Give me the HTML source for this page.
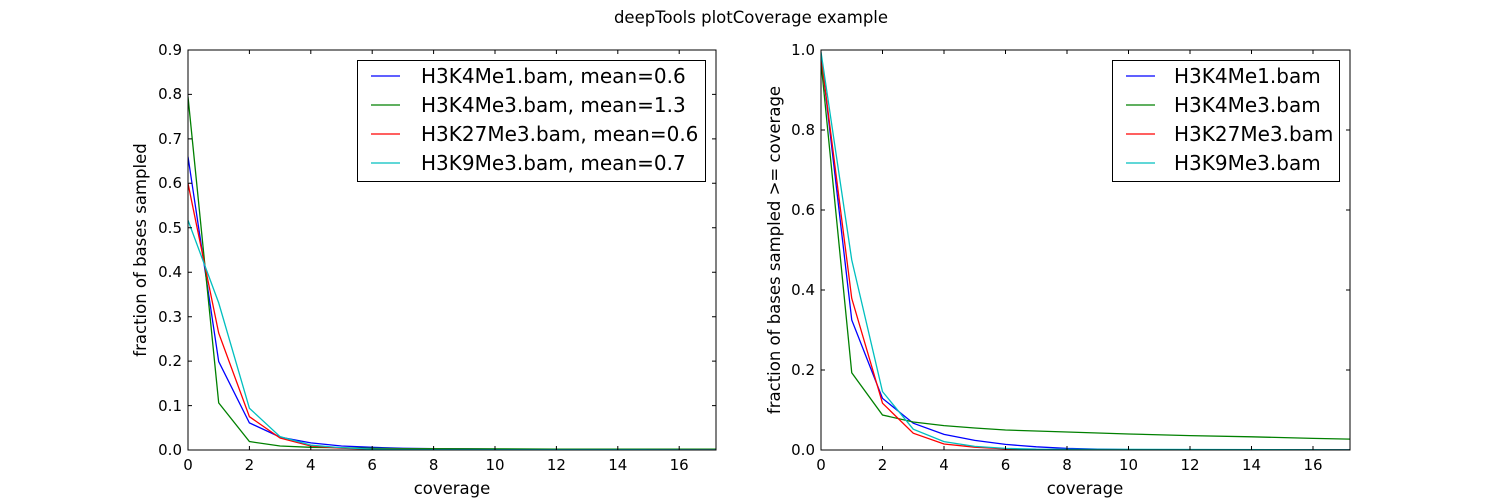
<!DOCTYPE html>
<html><head><meta charset="utf-8"><style>
html,body{margin:0;padding:0;background:#fff;}
svg{display:block;font-family:"DejaVu Sans","Liberation Sans",sans-serif;}
</style></head><body>
<svg width="1500" height="500" viewBox="0 0 1500 500" xmlns="http://www.w3.org/2000/svg">
<defs>
<clipPath id="c1"><rect x="188" y="50" width="528" height="400"/></clipPath>
<clipPath id="c2"><rect x="821" y="50" width="529" height="400"/></clipPath>
</defs>
<rect width="1500" height="500" fill="#fff"/>
<text x="751" y="23" font-size="16.5" text-anchor="middle">deepTools plotCoverage example</text>

<!-- LEFT -->
<g clip-path="url(#c1)" fill="none" stroke-width="1.3">
<g transform="translate(188,450) scale(30.7,-444.44)">
<polyline vector-effect="non-scaling-stroke" stroke="#0000ff" points="0,0.66 1,0.199 2,0.061 3,0.029 4,0.016 5,0.009 6,0.006 7,0.004 8,0.003 10,0.002 18,0.001"/>
<polyline vector-effect="non-scaling-stroke" stroke="#008000" points="0,0.795 1,0.106 2,0.019 3,0.009 4,0.006 5,0.005 6,0.004 7,0.003 8,0.003 12,0.002 18,0.002"/>
<polyline vector-effect="non-scaling-stroke" stroke="#ff0000" points="0,0.60 1,0.263 2,0.075 3,0.027 4,0.009 5,0.004 6,0.002 7,0.001 18,0.0005"/>
<polyline vector-effect="non-scaling-stroke" stroke="#00bfbf" points="0,0.517 1,0.331 2,0.094 3,0.030 4,0.011 5,0.005 6,0.002 7,0.001 18,0.0005"/>
</g></g>
<rect x="188" y="50" width="528" height="400" fill="none" stroke="#000" stroke-width="1"/>
<g stroke="#000" stroke-width="1">
<path d="M188,450v-4M188,50v4M249.4,450v-4M249.4,50v4M310.8,450v-4M310.8,50v4M372.2,450v-4M372.2,50v4M433.6,450v-4M433.6,50v4M495,450v-4M495,50v4M556.4,450v-4M556.4,50v4M617.8,450v-4M617.8,50v4M679.2,450v-4M679.2,50v4"/>
<path d="M188,405.6h4M716,405.6h-4M188,361.1h4M716,361.1h-4M188,316.7h4M716,316.7h-4M188,272.2h4M716,272.2h-4M188,227.8h4M716,227.8h-4M188,183.3h4M716,183.3h-4M188,138.9h4M716,138.9h-4M188,94.4h4M716,94.4h-4"/>
</g>
<g font-size="15" text-anchor="middle">
<text x="188" y="470">0</text><text x="249.4" y="470">2</text><text x="310.8" y="470">4</text><text x="372.2" y="470">6</text><text x="433.6" y="470">8</text><text x="495" y="470">10</text><text x="556.4" y="470">12</text><text x="617.8" y="470">14</text><text x="679.2" y="470">16</text>
</g>
<g font-size="15" text-anchor="end">
<text x="182" y="455">0.0</text><text x="182" y="411">0.1</text><text x="182" y="366">0.2</text><text x="182" y="322">0.3</text><text x="182" y="277">0.4</text><text x="182" y="233">0.5</text><text x="182" y="188">0.6</text><text x="182" y="144">0.7</text><text x="182" y="99">0.8</text><text x="182" y="55">0.9</text>
</g>
<text x="452" y="494" font-size="16.5" text-anchor="middle">coverage</text>
<text transform="translate(146,250) rotate(-90)" font-size="16.5" text-anchor="middle">fraction of bases sampled</text>
<rect x="357.5" y="60.5" width="348" height="121" fill="#fff" stroke="#000" stroke-width="1"/>
<g stroke-width="1.3">
<line x1="371" y1="76" x2="400" y2="76" stroke="#0000ff"/>
<line x1="371" y1="105" x2="400" y2="105" stroke="#008000"/>
<line x1="371" y1="134" x2="400" y2="134" stroke="#ff0000"/>
<line x1="371" y1="163" x2="400" y2="163" stroke="#00bfbf"/>
</g>
<g font-size="20">
<text x="421" y="83">H3K4Me1.bam, mean=0.6</text>
<text x="421" y="112">H3K4Me3.bam, mean=1.3</text>
<text x="421" y="141">H3K27Me3.bam, mean=0.6</text>
<text x="421" y="170">H3K9Me3.bam, mean=0.7</text>
</g>

<!-- RIGHT -->
<g clip-path="url(#c2)" fill="none" stroke-width="1.3">
<g transform="translate(821,450) scale(30.75,-400)">
<polyline vector-effect="non-scaling-stroke" stroke="#0000ff" points="0,0.99 1,0.325 2,0.129 3,0.067 4,0.039 5,0.024 6,0.014 7,0.008 8,0.004 9,0.002 10,0.001 18,0.0005"/>
<polyline vector-effect="non-scaling-stroke" stroke="#008000" points="0,0.97 1,0.193 2,0.0875 3,0.07 4,0.061 5,0.055 6,0.05 8,0.045 10,0.04 12,0.036 14,0.033 16,0.029 18,0.026"/>
<polyline vector-effect="non-scaling-stroke" stroke="#ff0000" points="0,0.985 1,0.379 2,0.117 3,0.042 4,0.015 5,0.007 6,0.003 7,0.001 18,0.0005"/>
<polyline vector-effect="non-scaling-stroke" stroke="#00bfbf" points="0,0.995 1,0.475 2,0.146 3,0.052 4,0.021 5,0.009 6,0.004 7,0.002 18,0.0005"/>
</g></g>
<rect x="821" y="50" width="529" height="400" fill="none" stroke="#000" stroke-width="1"/>
<g stroke="#000" stroke-width="1">
<path d="M821,450v-4M821,50v4M882.5,450v-4M882.5,50v4M944,450v-4M944,50v4M1005.5,450v-4M1005.5,50v4M1067,450v-4M1067,50v4M1128.5,450v-4M1128.5,50v4M1190,450v-4M1190,50v4M1251.5,450v-4M1251.5,50v4M1313,450v-4M1313,50v4"/>
<path d="M821,370h4M1350,370h-4M821,290h4M1350,290h-4M821,210h4M1350,210h-4M821,130h4M1350,130h-4"/>
</g>
<g font-size="15" text-anchor="middle">
<text x="821" y="470">0</text><text x="882.5" y="470">2</text><text x="944" y="470">4</text><text x="1005.5" y="470">6</text><text x="1067" y="470">8</text><text x="1128.5" y="470">10</text><text x="1190" y="470">12</text><text x="1251.5" y="470">14</text><text x="1313" y="470">16</text>
</g>
<g font-size="15" text-anchor="end">
<text x="815" y="455">0.0</text><text x="815" y="375">0.2</text><text x="815" y="295">0.4</text><text x="815" y="215">0.6</text><text x="815" y="135">0.8</text><text x="815" y="55">1.0</text>
</g>
<text x="1085" y="494" font-size="16.5" text-anchor="middle">coverage</text>
<text transform="translate(780,250) rotate(-90)" font-size="16.5" text-anchor="middle">fraction of bases sampled &gt;= coverage</text>
<rect x="1112.5" y="60.5" width="227" height="121" fill="#fff" stroke="#000" stroke-width="1"/>
<g stroke-width="1.3">
<line x1="1126" y1="76" x2="1155" y2="76" stroke="#0000ff"/>
<line x1="1126" y1="105" x2="1155" y2="105" stroke="#008000"/>
<line x1="1126" y1="134" x2="1155" y2="134" stroke="#ff0000"/>
<line x1="1126" y1="163" x2="1155" y2="163" stroke="#00bfbf"/>
</g>
<g font-size="20">
<text x="1174" y="83">H3K4Me1.bam</text>
<text x="1174" y="112">H3K4Me3.bam</text>
<text x="1174" y="141">H3K27Me3.bam</text>
<text x="1174" y="170">H3K9Me3.bam</text>
</g>
</svg>
</body></html>
